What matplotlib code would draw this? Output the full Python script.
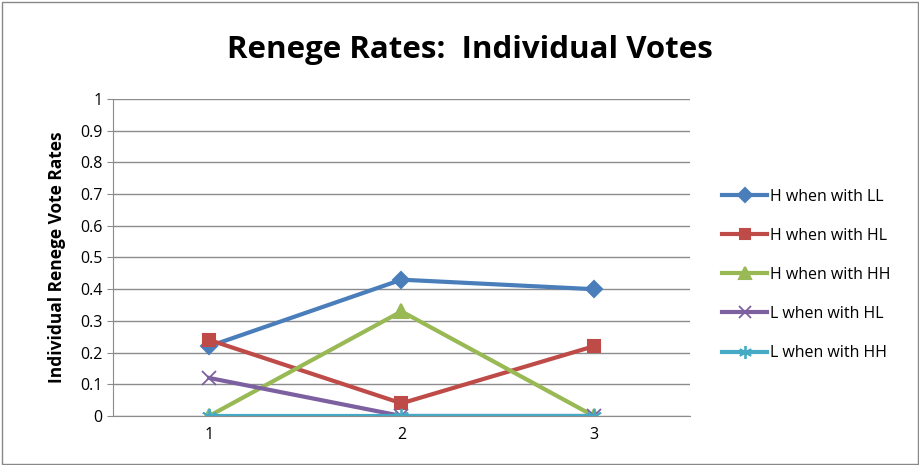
import matplotlib.pyplot as plt
from matplotlib.patches import Rectangle

plt.rcParams['font.family'] = ['Open Sans', 'DejaVu Sans']

rounds = [1, 2, 3]
h_ll = [0.22, 0.43, 0.40]
h_hl = [0.24, 0.04, 0.22]
h_hh = [0.0, 0.33, 0.0]
l_hl = [0.12, 0.0, 0.0]
l_hh = [0.0, 0.0, 0.0]

series = [
    ('H when with LL', h_ll, '#4a7ebb', 'D', 8, 1.5),
    ('H when with HL', h_hl, '#be4b48', 's', 9, 1.5),
    ('H when with HH', h_hh, '#98b954', '^', 10, 1.5),
    ('L when with HL', l_hl, '#7d60a0', 'x', 10, 1.3),
    ('L when with HH', l_hh, '#46aac5', (6, 2, 0), 11, 1.3),
]

fig = plt.figure(figsize=(9.2, 4.65), dpi=100)
fig.patches.append(Rectangle((0.002, 0.002), 0.996, 0.994, transform=fig.transFigure,
                             fill=False, edgecolor='#888888', linewidth=1))
ax = fig.add_axes([0.1228, 0.1054, 0.6272, 0.6817])

for name, vals, color, mk, ms, mew in series:
    ax.plot(rounds, vals, color=color, linewidth=3, marker=mk, markersize=ms,
            markeredgecolor=color, markerfacecolor=color, markeredgewidth=mew,
            label=name)

ax.set_xlim(0.5, 3.5)
ax.set_ylim(0, 1)
ax.set_yticks([i / 10 for i in range(11)])
ax.set_yticklabels(['0', '0.1', '0.2', '0.3', '0.4', '0.5', '0.6', '0.7', '0.8', '0.9', '1'])
ax.set_xticks(rounds)
ax.grid(axis='y', color='#8c8c8c', linewidth=1)
ax.set_axisbelow(True)
for s in ['top', 'right']:
    ax.spines[s].set_visible(False)
ax.spines['left'].set_color('#8c8c8c')
ax.spines['bottom'].set_color('#8c8c8c')
ax.tick_params(axis='both', labelsize=11.5, color='#8c8c8c', length=4)
ax.tick_params(axis='x', length=0, pad=8)
ax.set_ylabel('Individual Renege Vote Rates', fontsize=12.5, fontweight='bold', labelpad=10)

fig.text(0.511, 0.892, 'Renege Rates:  Individual Votes', ha='center', va='center',
         fontsize=22.5, fontweight='bold')

ax.legend(loc='center left', bbox_to_anchor=(1.031, 0.445), frameon=False, fontsize=11.5,
          handlelength=2.8, labelspacing=1.45, handletextpad=0.2, markerscale=0.85)

fig.savefig('out.png', dpi=100)
